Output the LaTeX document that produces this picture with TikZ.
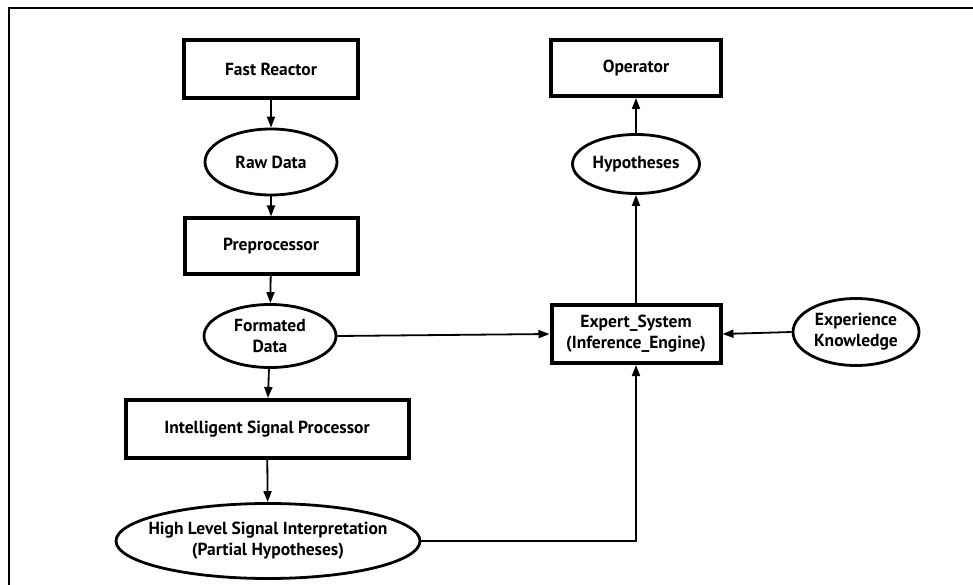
\documentclass[tikz,border=0pt]{standalone}
\usepackage{fontspec}
\setmainfont{PT Sans}
\usetikzlibrary{shapes.geometric,arrows.meta}
\begin{document}
\begin{tikzpicture}[x=1pt,y=-1pt,
  lbl/.style={font=\bfseries\fontsize{17.5}{21}\selectfont, align=center, inner sep=0pt},
  box/.style={lbl, draw, rectangle, line width=4pt},
  blob/.style={lbl, draw, ellipse, line width=2.8pt},
  flow/.style={line width=1.8pt, -{Triangle[length=11pt,width=8pt]}}]
\useasboundingbox (0,0) rectangle (973,585);
% page frame (left and top edges)
\draw[line width=2.5pt] (9,585) -- (9,8) -- (973,8);

% left column: data acquisition chain
\node[box, minimum width=174pt, minimum height=58pt] (reactor) at (271,69) {Fast Reactor};
\node[blob, minimum width=132pt, minimum height=66pt] (raw) at (271,162) {Raw Data};
\node[box, minimum width=173pt, minimum height=55pt] (prep) at (271,246) {Preprocessor};
\node[blob, minimum width=132pt, minimum height=63pt] (fdata) at (270,336) {Formated\\Data};
\node[box, minimum width=283pt, minimum height=58pt] (isp) at (267,429) {Intelligent Signal Processor};
\node[blob, inner xsep=-14pt, minimum width=304pt, minimum height=75pt] (hlsi) at (268,541) {High Level Signal Interpretation\\(Partial Hypotheses)};

% right column: reasoning and output
\node[box, minimum width=170pt, minimum height=56pt] (oper) at (636,68) {Operator};
\node[blob, minimum width=127pt, minimum height=59pt] (hypo) at (636,164) {Hypotheses};
\node[box, minimum width=169pt, minimum height=58pt] (expert) at (636,334) {Expert\_System\\(Inference\_Engine)};
\node[blob, minimum width=126pt, minimum height=67pt] (know) at (856,332) {Experience\\Knowledge};

% connectors
\draw[flow] (reactor) -- (raw);
\draw[flow] (raw) -- (prep);
\draw[flow] (prep) -- (fdata);
\draw[flow] (fdata) -- (isp);
\draw[flow] (isp) -- (hlsi);
\draw[flow] (fdata.east) -- (expert.west);
\draw[flow] (know.west) -- (expert.east);
\draw[flow] (expert) -- (hypo);
\draw[flow] (hypo) -- (oper);
\draw[flow] (hlsi.east) -| (expert.south);
\end{tikzpicture}
\end{document}
